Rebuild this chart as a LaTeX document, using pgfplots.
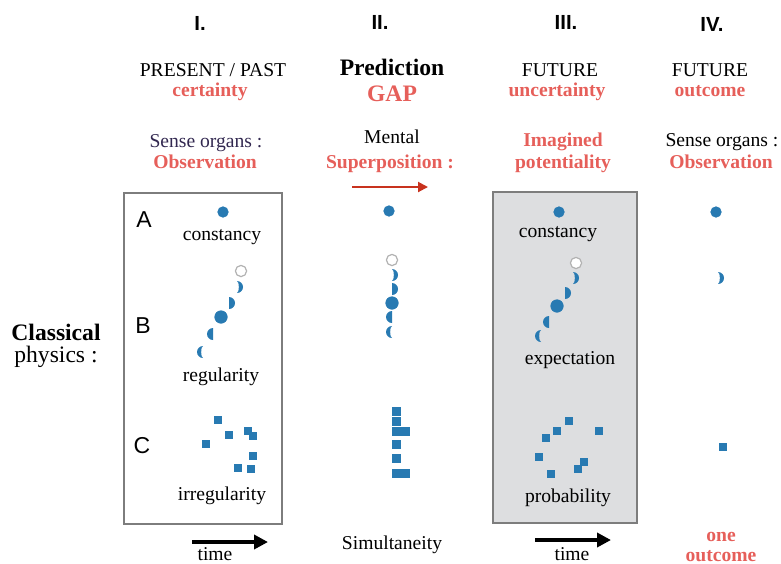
\documentclass[border=0pt]{standalone}
\usepackage{fontspec}
\setmainfont{Liberation Serif}
\newfontfamily\sansf{Liberation Sans}
\usepackage{pgfplots}
\pgfplotsset{compat=1.18}
\usetikzlibrary{arrows.meta}
\definecolor{tred}{RGB}{230,95,90}
\definecolor{ared}{RGB}{200,50,30}
\definecolor{mblue}{RGB}{40,122,178}
\definecolor{boxgray}{RGB}{221,222,224}
\definecolor{edgegray}{RGB}{125,125,125}
\definecolor{dpurple}{RGB}{50,40,80}
\pgfdeclareplotmark{crR}{%
 \pgfpathmoveto{\pgfqpoint{0pt}{\pgfplotmarksize}}%
 \pgfpatharc{90}{-90}{\pgfplotmarksize}%
 \pgfpatharc{-90}{90}{0.3\pgfplotmarksize and \pgfplotmarksize}%
 \pgfpathclose\pgfusepathqfill}
\pgfdeclareplotmark{crL}{%
 \pgfpathmoveto{\pgfqpoint{0pt}{\pgfplotmarksize}}%
 \pgfpatharc{90}{270}{\pgfplotmarksize}%
 \pgfpatharc{270}{90}{0.3\pgfplotmarksize and \pgfplotmarksize}%
 \pgfpathclose\pgfusepathqfill}
\pgfdeclareplotmark{hfR}{%
 \pgfpathmoveto{\pgfqpoint{0pt}{\pgfplotmarksize}}%
 \pgfpatharc{90}{-90}{\pgfplotmarksize}%
 \pgfpathclose\pgfusepathqfill}
\pgfdeclareplotmark{hfL}{%
 \pgfpathmoveto{\pgfqpoint{0pt}{\pgfplotmarksize}}%
 \pgfpatharc{90}{270}{\pgfplotmarksize}%
 \pgfpathclose\pgfusepathqfill}
\tikzset{
 t/.style={font=\fontsize{9.8}{11}\selectfont, anchor=base, inner sep=0pt},
 tb/.style={font=\fontsize{9.8}{11}\selectfont\bfseries, anchor=base, inner sep=0pt, text=tred},
 tbig/.style={font=\fontsize{11.8}{13}\selectfont\bfseries, anchor=base, inner sep=0pt},
 rom/.style={font=\fontsize{10.2}{11}\selectfont\sansf\bfseries, anchor=base, inner sep=0pt},
 let/.style={font=\fontsize{11.5}{13}\selectfont\sansf, anchor=base, inner sep=0pt},
}
\begin{document}
\begin{tikzpicture}
\begin{axis}[hide axis, scale only axis, width=390.5pt, height=281.5pt,
  xmin=0, xmax=781, ymin=0, ymax=563, y dir=reverse, clip=false]
\coordinate (SW) at (axis cs:0,563);
\coordinate (NE) at (axis cs:781,0);
% boxes
\draw[edgegray, line width=0.75pt] (axis cs:124,193) rectangle (axis cs:282,524);
\draw[edgegray, fill=boxgray, line width=0.75pt] (axis cs:493,192) rectangle (axis cs:637,523);
% arrows
\draw[ared, line width=1pt, -{Triangle[length=5pt, width=5pt]}] (axis cs:352,187) -- (axis cs:428,187);
\draw[black, line width=2pt, -{Triangle[length=7pt, width=7pt]}] (axis cs:192,542) -- (axis cs:268,542);
\draw[black, line width=2pt, -{Triangle[length=7pt, width=7pt]}] (axis cs:535,540) -- (axis cs:611,540);
% headings
\node[rom] at (axis cs:200,30) {I.};
\node[rom] at (axis cs:380,29) {II.};
\node[rom] at (axis cs:566,29) {III.};
\node[rom] at (axis cs:712,31) {IV.};
\node[t] at (axis cs:213,76) {PRESENT / PAST};
\node[tb] at (axis cs:210,96) {certainty};
\node[tbig] at (axis cs:392,75) {Prediction};
\node[tbig, text=tred] at (axis cs:392,101) {GAP};
\node[t] at (axis cs:560,76) {FUTURE};
\node[tb] at (axis cs:557,96) {uncertainty};
\node[t] at (axis cs:710,76) {FUTURE};
\node[tb] at (axis cs:710,96) {outcome};
\node[t, text=dpurple] at (axis cs:206,147) {Sense organs :};
\node[tb] at (axis cs:205,168) {Observation};
\node[t] at (axis cs:392,143) {Mental};
\node[tb] at (axis cs:390,168) {Superposition :};
\node[tb] at (axis cs:563,146) {Imagined};
\node[tb] at (axis cs:563,168) {potentiality};
\node[t] at (axis cs:722,146) {Sense organs :};
\node[tb] at (axis cs:721,168) {Observation};
% side labels
\node[tbig] at (axis cs:56,340) {Classical};
\node[tbig, font=\fontsize{11.8}{13}\selectfont] at (axis cs:56,362) {physics :};
\node[let] at (axis cs:144,227) {A};
\node[let] at (axis cs:143,333) {B};
\node[let] at (axis cs:142,453) {C};
% in-box labels
\node[t] at (axis cs:222,240) {constancy};
\node[t] at (axis cs:221,381) {regularity};
\node[t] at (axis cs:222,500) {irregularity};
\node[t] at (axis cs:215,560) {time};
\node[t] at (axis cs:392,549) {Simultaneity};
\node[t] at (axis cs:558,237) {constancy};
\node[t] at (axis cs:570,364) {expectation};
\node[t] at (axis cs:568,502) {probability};
\node[t] at (axis cs:572,560) {time};
\node[tb] at (axis cs:721,541) {one};
\node[tb] at (axis cs:721,561) {outcome};
% markers
\addplot[only marks, mark=*, mark size=2.6pt, color=mblue] coordinates {(223,212) (389,211) (559,212) (716,212)};
\addplot[only marks, mark=*, mark size=3.1pt, color=mblue] coordinates {(221,317) (392,303) (557,306)};
\addplot[only marks, mark=*, mark size=2.8pt, mark options={draw=black!30, fill=white, line width=0.6pt}] coordinates {(241,271) (392,260) (576,263)};
\addplot[only marks, mark=crR, mark size=3pt, color=mblue] coordinates {(237,287) (392,275) (573,278) (718,278)};
\addplot[only marks, mark=hfR, mark size=3pt, color=mblue] coordinates {(229,303) (392,289) (565,293)};
\addplot[only marks, mark=hfL, mark size=3pt, color=mblue] coordinates {(213,334) (392,317) (549,322)};
\addplot[only marks, mark=crL, mark size=3pt, color=mblue] coordinates {(203,352) (392,332) (541,336)};
\addplot[only marks, mark=square*, mark size=1.6pt, color=mblue] coordinates {(218,420) (206,444) (229,435) (248,431) (253,436) (253,456) (238,468) (251,469)};
\addplot[only marks, mark=square*, mark size=1.6pt, color=mblue] coordinates {(569,421) (557,431) (546,438) (599,431) (539,457) (551,474) (584,462) (578,469)};
\addplot[only marks, mark=square*, mark size=2pt, color=mblue] coordinates {(396,411) (396,421) (396,431) (405,431) (396,444) (396,458) (396,473) (405,473)};
\addplot[only marks, mark=square*, mark size=1.8pt, color=mblue] coordinates {(723,447)};
\end{axis}
\pgfresetboundingbox
\path (SW) rectangle (NE);
\end{tikzpicture}
\end{document}
